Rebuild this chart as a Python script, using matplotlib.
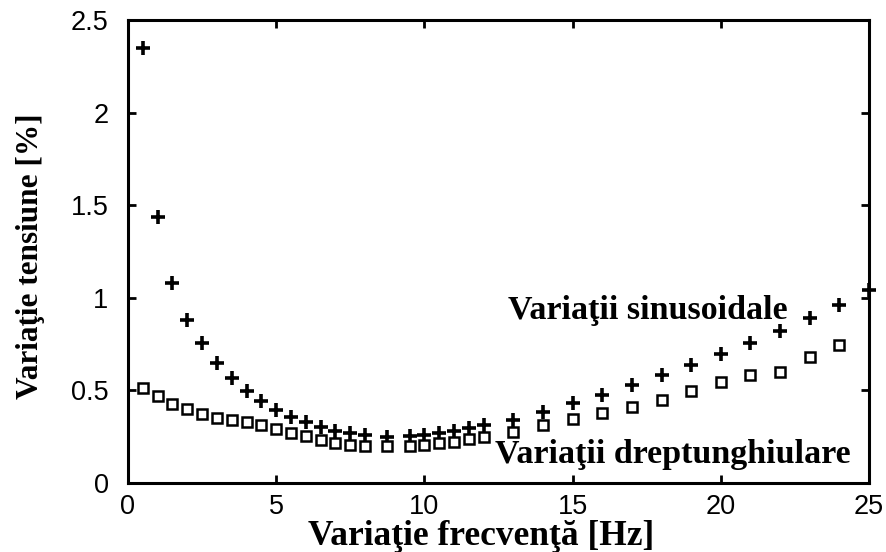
import matplotlib
matplotlib.use('agg')
import matplotlib.pyplot as plt

# frequency steps (Hz)
freq_sin = [0.5, 1, 1.5, 2, 2.5, 3, 3.5, 4, 4.5, 5, 5.5, 6, 6.5, 7, 7.5, 8,
            8.75, 9.5, 10, 10.5, 11, 11.5, 12, 13, 14, 15, 16, 17, 18, 19,
            20, 21, 22, 23, 24, 25]
freq_dr = [0.5, 1, 1.5, 2, 2.5, 3, 3.5, 4, 4.5, 5, 5.5, 6, 6.5, 7, 7.5, 8,
           8.75, 9.5, 10, 10.5, 11, 11.5, 12, 13, 14, 15, 16, 17, 18, 19,
           20, 21, 22, 23, 24]

# voltage variation (%)
var_sin = [2.35, 1.436, 1.078, 0.880, 0.754, 0.650, 0.565, 0.498, 0.441,
           0.394, 0.358, 0.331, 0.300, 0.281, 0.270, 0.259, 0.250, 0.254,
           0.259, 0.272, 0.281, 0.297, 0.313, 0.340, 0.385, 0.430, 0.475,
           0.529, 0.583, 0.637, 0.697, 0.758, 0.821, 0.889, 0.961, 1.042]
var_dr = [0.511, 0.468, 0.429, 0.398, 0.371, 0.353, 0.342, 0.328, 0.313,
          0.290, 0.268, 0.254, 0.232, 0.214, 0.205, 0.201, 0.201, 0.200,
          0.205, 0.214, 0.223, 0.236, 0.250, 0.277, 0.313, 0.344, 0.376,
          0.412, 0.448, 0.497, 0.544, 0.583, 0.601, 0.682, 0.745]

xticks = [0, 5, 10, 15, 20, 25]
yticks = [0, 0.5, 1, 1.5, 2, 2.5]
xtick_labels = ['0', '5', '10', '15', '20', '25']
ytick_labels = ['0', '0.5', '1', '1.5', '2', '2.5']

serif = {'family': 'Liberation Serif', 'weight': 'bold'}
sans = {'family': 'Liberation Sans', 'size': 19.5}

fig = plt.figure(figsize=(8.87, 5.52), dpi=100)
ax = fig.add_axes([0.1443, 0.125, 0.8354, 0.8388])

ax.plot(freq_sin, var_sin, linestyle='none', marker='+', markersize=9.5,
        markeredgewidth=2.6, color='black', clip_on=False)
ax.plot(freq_dr, var_dr, linestyle='none', marker='s', markersize=7,
        markeredgewidth=1.8, markerfacecolor='white', markeredgecolor='black')

ax.text(12.82, 0.886, 'Variaţii sinusoidale', fontdict=serif, fontsize=24.5,
        va='baseline', ha='left')
ax.text(12.38, 0.108, 'Variaţii dreptunghiulare', fontdict=serif,
        fontsize=24.5, va='baseline', ha='left')

ax.set_xlim(0, 25)
ax.set_ylim(0, 2.5)
ax.set_xticks(xticks)
ax.set_yticks(yticks)
ax.set_xticklabels(xtick_labels, fontdict=sans)
ax.set_yticklabels(ytick_labels, fontdict=sans)

for side in ax.spines.values():
    side.set_linewidth(2.2)
ax.tick_params(direction='in', length=6, width=2, top=True, right=True)
ax.tick_params(axis='x', pad=8)
ax.tick_params(axis='y', pad=14)

ax.set_xlabel('Variaţie frecvenţă [Hz]', fontdict=serif, fontsize=25.5)
ax.set_ylabel('Variaţie tensiune [%]', fontdict=serif, fontsize=22.5)
ax.xaxis.set_label_coords(0.477, -0.08)
ax.yaxis.set_label_coords(-0.112, 0.49)

fig.savefig('out.png', dpi=100)
